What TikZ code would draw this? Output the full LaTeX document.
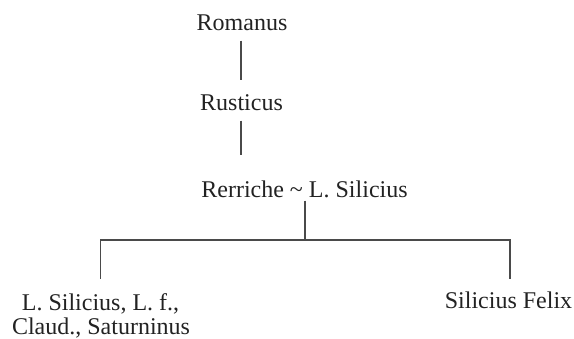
\documentclass[tikz,border=0pt]{standalone}
\usepackage{fontspec}
\setmainfont{Liberation Serif}
\definecolor{txt}{HTML}{222222}
\definecolor{ln}{HTML}{4A4A4A}
\begin{document}
\begin{tikzpicture}[x=1pt,y=-1pt,
  person/.style={inner sep=0pt,anchor=base,text=txt,font=\fontsize{24}{26}\selectfont,align=center},
  link/.style={draw=ln,line width=1.1pt}]
\useasboundingbox (0,0) rectangle (574,338);
\node[person] (rom) at (242,30) {Romanus};
\node[person] (rus) at (241.5,110) {Rusticus};
\node[person] (rer) at (304.5,197) {Rerriche \char`~\ L. Silicius};
\node[person] (lsa) at (100.5,310) {L. Silicius, L. f.,};
\node[person] (lsb) at (101,334) {Claud., Saturninus};
\node[person] (fel) at (508.5,308) {Silicius Felix};
\coordinate (j) at (305,240);
\draw[link] ([xshift=-1pt,yshift=-10.7pt]rom.base) -- ([xshift=-0.5pt,yshift=30pt]rus.base);
\draw[link] ([xshift=-0.5pt,yshift=-10.7pt]rus.base) -- ([xshift=-0.5pt,yshift=42pt]rer.base -| rus.base);
\draw[link] ([xshift=0.5pt,yshift=-3.7pt]rer.base) -- (j);
\draw[link] (j) -| ([xshift=0.2pt,yshift=31pt]lsa.base);
\draw[link] (j) -| ([xshift=1.5pt,yshift=29pt]fel.base);
\end{tikzpicture}
\end{document}
